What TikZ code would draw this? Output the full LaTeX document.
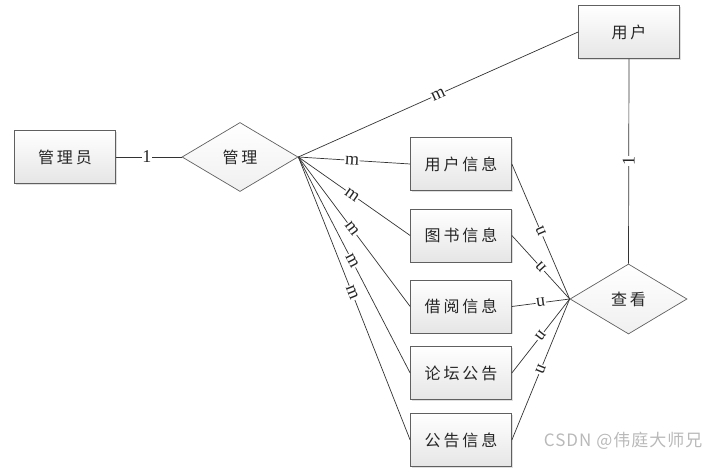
\documentclass[tikz,border=0pt]{standalone}
\usepackage{fontspec}
\setmainfont{Liberation Serif}
\newfontfamily\cjk{Noto Sans CJK SC}[LetterSpace=18]
\newfontfamily\cjkwm{Noto Sans CJK SC}[LetterSpace=6]
\usetikzlibrary{shapes.geometric,shadows}
\begin{document}
\begin{tikzpicture}[x=1pt,y=-1pt,
  ent/.style={draw=gray!75!black, line width=0.7pt, top color=white, bottom color=gray!20,
    minimum width=101pt, minimum height=53pt, inner sep=0pt,
    font=\cjk\fontsize{16}{16}\selectfont, text=black!85,
    drop shadow={opacity=0.25, shadow xshift=1.2pt, shadow yshift=-1.2pt}},
  rel/.style={diamond, draw=gray!75!black, line width=0.7pt, top color=white, bottom color=gray!12,
    minimum width=116pt, minimum height=69pt, inner sep=0pt, aspect=1.68,
    font=\cjk\fontsize{16}{16}\selectfont, text=black!85},
  conn/.style={draw=gray!40!black, line width=0.7pt},
  lab/.style={font=\fontsize{18}{18}\selectfont, fill=white, inner sep=0.6pt, text=black!85}
]
\useasboundingbox (0,0) rectangle (720,473);

\node[ent] (admin) at (65,157) {管理员};
\node[rel] (manage) at (240,157) {管理};
\node[ent] (user) at (629,32) {用户};
\node[rel, minimum width=117pt, minimum height=70pt] (view) at (628.5,299) {查看};

\node[ent] (b1) at (461,164) {用户信息};
\node[ent] (b2) at (461,235.5) {图书信息};
\node[ent] (b3) at (461,306.5) {借阅信息};
\node[ent] (b4) at (461,373) {论坛公告};
\node[ent] (b5) at (461,440) {公告信息};

\draw[conn] (admin.east) -- node[lab, pos=0.47] {1} (manage.west);
\draw[conn] (manage.east) -- node[lab, sloped, pos=0.5] {m} (user.west);
\draw[conn] (user.south) -- node[lab, pos=0.5, rotate=90] {1} (view.north);

\foreach \b in {b1,b2,b3,b4,b5}{
  \draw[conn] (manage.east) -- node[lab, sloped, pos=0.48] {m} (\b.west);
  \draw[conn] (\b.east) -- node[lab, sloped, rotate=180, pos=0.5] {n} (view.west);
}

\node[font=\cjkwm\fontsize{17}{17}\selectfont, text=gray!55, anchor=east] (wm) at (706,441) {CSDN @伟庭大师兄};
\end{tikzpicture}
\end{document}
